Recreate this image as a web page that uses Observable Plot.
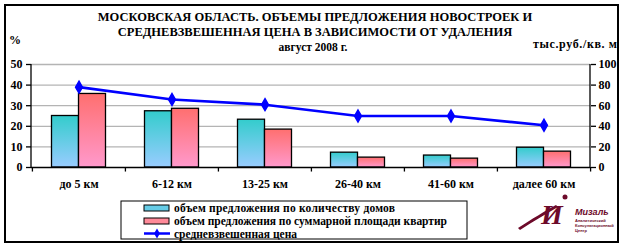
<!DOCTYPE html>
<html><head><meta charset="utf-8">
<script src="https://cdn.jsdelivr.net/npm/d3@7"></script>
<script src="https://cdn.jsdelivr.net/npm/@observablehq/plot@0.6"></script>
<style>body{margin:0;background:#fff} svg{display:block} svg text{font-family:"Liberation Serif","Times New Roman",serif !important;}</style>
</head><body><div id="chart"></div>
<script>
const categories = ["до 5 км", "6-12 км", "13-25 км", "26-40 км", "41-60 км", "далее 60 км"];
const housesShare = [25, 27.3, 23.2, 7.2, 5.8, 9.6];
const areaShare = [35.7, 28.5, 18.4, 4.8, 4.3, 7.7];
const avgPrice = [78, 66, 61, 50, 50, 41];
const leftTicks = [0, 10, 20, 30, 40, 50];
const seriesNames = ["объем предложения по количеству домов", "объем предложения по суммарной площади квартир", "средневзвешенная цена"];
const titleLines = ["МОСКОВСКАЯ ОБЛАСТЬ. ОБЪЕМЫ ПРЕДЛОЖЕНИЯ НОВОСТРОЕК И", "СРЕДНЕВЗВЕШЕННАЯ ЦЕНА В ЗАВИСИМОСТИ ОТ УДАЛЕНИЯ", "август 2008 г."];
const leftUnit = "%";
const rightUnit = "тыс.руб./кв. м";
const logoName = "Мизаль";
const logoSub = ["Аналитический", "Консультационный", "Центр"];

const rows = categories.map((c, i) => ({cat: c, houses: housesShare[i], area: areaShare[i], price: avgPrice[i]}));

const W = 624, H = 248, mL = 31, mR = 34, mT = 64, mB = 81;
const bw = (W - mL - mR) / categories.length;
const serif = "Liberation Serif, serif";

const defs = () => {
  const d = d3.create("svg:defs");
  const g1 = d.append("linearGradient").attr("id", "gTeal").attr("x1", 0).attr("y1", 0).attr("x2", 0).attr("y2", 1);
  g1.append("stop").attr("offset", "0%").attr("stop-color", "#33cccc");
  g1.append("stop").attr("offset", "100%").attr("stop-color", "#99ccff");
  const g2 = d.append("linearGradient").attr("id", "gPink").attr("x1", 0).attr("y1", 0).attr("x2", 0).attr("y2", 1);
  g2.append("stop").attr("offset", "0%").attr("stop-color", "#ff6f6f");
  g2.append("stop").attr("offset", "100%").attr("stop-color", "#ff99cc");
  return d.node();
};

const plot = Plot.plot({
  width: W, height: H,
  marginLeft: mL, marginRight: mR, marginTop: mT, marginBottom: mB,
  style: {fontFamily: serif, fontWeight: "bold", fontSize: "11px", background: "#fff", color: "#000"},
  x: {type: "band", domain: categories, padding: 0, axis: null},
  y: {domain: [0, 50], axis: null},
  marks: [
    defs,
    Plot.gridY(leftTicks.slice(1), {stroke: "#b4b4b4", strokeOpacity: 1, strokeWidth: 1.3}),
    Plot.barY(rows, {x: "cat", y: "houses", fill: "url(#gTeal)", stroke: "#000", strokeWidth: 1.3, insetLeft: 19.5, insetRight: 46.5}),
    Plot.barY(rows, {x: "cat", y: "area", fill: "url(#gPink)", stroke: "#000", strokeWidth: 1.3, insetLeft: 46.5, insetRight: 19.5}),
    Plot.line(rows, {x: "cat", y: d => d.price / 2, stroke: "#0000ff", strokeWidth: 2.6}),
    Plot.dot(rows, {x: "cat", y: d => d.price / 2, symbol: "diamond", r: 3.6, fill: "#0000ff", stroke: "#0000ff"}),
    Plot.ruleY([0], {stroke: "#000", strokeWidth: 1.3}),
    Plot.ruleX(categories, {x: d => d, dx: -bw / 2, y1: 0, y2: -2.2, stroke: "#000", strokeWidth: 1.3}),
    Plot.ruleX(categories.slice(-1), {x: d => d, dx: bw / 2, y1: 0, y2: -2.2, stroke: "#000", strokeWidth: 1.3}),
    Plot.axisY(leftTicks, {anchor: "left", tickSize: 5, tickPadding: 4, label: null, fontSize: 12, strokeWidth: 1.3}),
    Plot.axisY(leftTicks, {anchor: "right", tickSize: 5, tickPadding: 3, label: null, tickFormat: d => String(d * 2), fontSize: 12, strokeWidth: 1.3}),
    Plot.axisX(categories, {anchor: "bottom", tickSize: 0, tickPadding: 12, label: null, fontSize: 12})
  ]
});

const svg = d3.select(plot);
const ys = plot.scale("y");
const yTop = ys.apply(50), yBot = ys.apply(0);
svg.append("line").attr("x1", mL).attr("x2", mL).attr("y1", yTop).attr("y2", yBot).attr("stroke", "#000").attr("stroke-width", 1.3);
svg.append("line").attr("x1", W - mR).attr("x2", W - mR).attr("y1", yTop).attr("y2", yBot).attr("stroke", "#000").attr("stroke-width", 1.3);

svg.append("rect").attr("x", 5).attr("y", 5).attr("width", 613).attr("height", 237)
  .attr("fill", "none").attr("stroke", "#000").attr("stroke-width", 2);

const tfont = (sel, size, anchor) => sel.attr("font-family", serif).attr("font-weight", "bold").attr("font-size", size).attr("fill", "#000").attr("text-anchor", anchor || "start");
tfont(svg.append("text").attr("x", 315).attr("y", 21).text(titleLines[0]), 12.5, "middle");
tfont(svg.append("text").attr("x", 315).attr("y", 36).text(titleLines[1]), 12.5, "middle");
tfont(svg.append("text").attr("x", 313).attr("y", 51).text(titleLines[2]), 11.5, "middle");
tfont(svg.append("text").attr("x", 9).attr("y", 44).text(leftUnit), 12);
tfont(svg.append("text").attr("x", 617).attr("y", 48).attr("textLength", 84).attr("lengthAdjust", "spacing").text(rightUnit), 12, "end");

const lg = svg.append("g");
lg.append("rect").attr("x", 121).attr("y", 201).attr("width", 346).attr("height", 38).attr("fill", "#fff").attr("stroke", "#000").attr("stroke-width", 1);
const rowsY = [208, 221, 233.5];
const rowLens = [221, 273, 123];
lg.append("rect").attr("x", 144).attr("y", rowsY[0] - 3).attr("width", 25).attr("height", 6).attr("fill", "#66cce6").attr("stroke", "#000").attr("stroke-width", 1);
lg.append("rect").attr("x", 144).attr("y", rowsY[1] - 3).attr("width", 25).attr("height", 6).attr("fill", "#ff8a99").attr("stroke", "#000").attr("stroke-width", 1);
lg.append("line").attr("x1", 144).attr("x2", 170).attr("y1", rowsY[2]).attr("y2", rowsY[2]).attr("stroke", "#0000ff").attr("stroke-width", 2.5);
lg.append("path").attr("d", d3.symbol(d3.symbolDiamond, 30)()).attr("transform", `translate(157,${rowsY[2]})`).attr("fill", "#0000ff");
seriesNames.forEach((s, i) => {
  tfont(lg.append("text").attr("x", 174).attr("y", rowsY[i] + 4).attr("textLength", rowLens[i]).attr("lengthAdjust", "spacing").text(s), 11.5);
});

const sans = "Liberation Sans, sans-serif";
const logo = svg.append("g").attr("fill", "#6d0a2a");
logo.append("path").attr("d", "M518,228 C532,219 545,211 556,205 L558,207 C546,214 534,221 520,230 Z");
logo.append("text").attr("x", 541).attr("y", 224).attr("text-anchor", "start").attr("font-family", serif).attr("font-style", "italic").attr("font-weight", "bold").attr("font-size", 28).text("И");
logo.append("circle").attr("cx", 565).attr("cy", 197).attr("r", 2.5);
logo.append("text").attr("x", 575).attr("y", 215).attr("text-anchor", "start").attr("style", "font-family:" + sans + " !important").attr("font-style", "italic").attr("font-weight", "bold").attr("font-size", 9).text(logoName);
logoSub.forEach((t, i) => logo.append("text").attr("x", 575).attr("y", 222 + i * 5).attr("text-anchor", "start").attr("style", "font-family:" + sans + " !important").attr("font-size", 4).text(t));

document.getElementById("chart").appendChild(plot);
</script>
</body></html>
